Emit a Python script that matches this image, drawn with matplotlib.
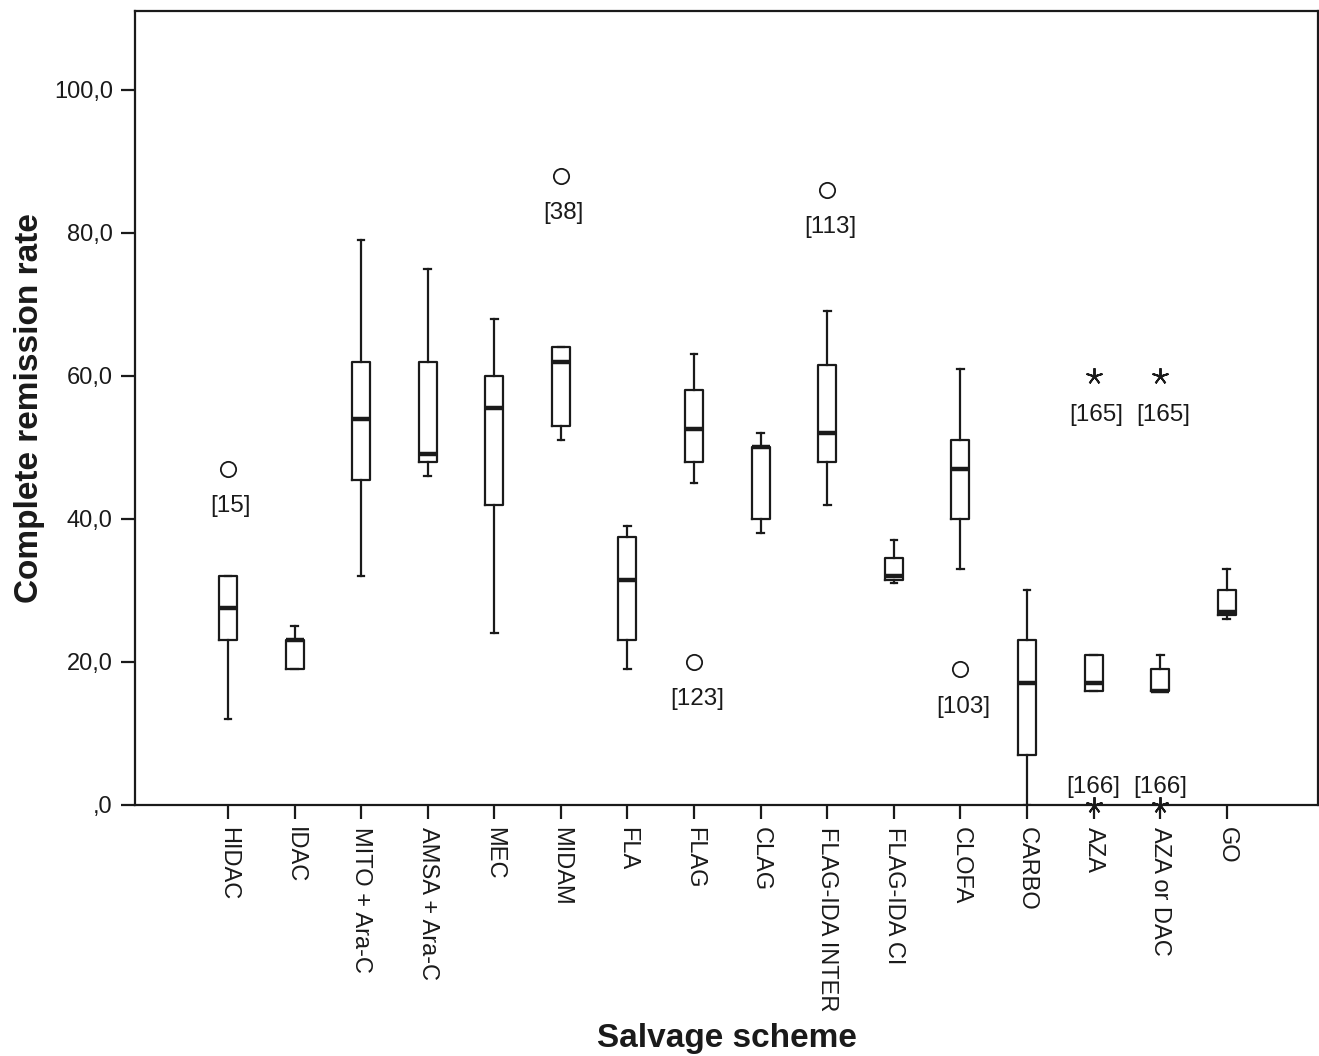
import matplotlib.pyplot as plt
import numpy as np

plt.rcParams['font.family'] = ['Liberation Sans', 'DejaVu Sans']

schemes = ["HIDAC", "IDAC", "MITO + Ara-C", "AMSA + Ara-C", "MEC", "MIDAM", "FLA", "FLAG",
           "CLAG", "FLAG-IDA INTER", "FLAG-IDA CI", "CLOFA", "CARBO", "AZA", "AZA or DAC", "GO"]

whis_lo = [12, 19, 32, 46, 24, 51, 19, 45, 38, 42, 31, 33, 0, 16, 16, 26]
q1 = [23, 19, 45.5, 48, 42, 53, 23, 48, 40, 48, 31.5, 40, 7, 16, 16, 26.5]
median = [27.5, 23, 54, 49, 55.5, 62, 31.5, 52.5, 50, 52, 32, 47, 17, 17, 16, 27]
q3 = [32, 23, 62, 62, 60, 64, 37.5, 58, 50, 61.5, 34.5, 51, 23, 21, 19, 30]
whis_hi = [32, 25, 79, 75, 68, 64, 39, 63, 52, 69, 37, 61, 30, 21, 21, 33]

# outliers: scheme index, value, case label
out_idx = [0, 5, 7, 9, 11]
out_val = [47, 88, 20, 86, 19]
out_lab = ["[15]", "[38]", "[123]", "[113]", "[103]"]

# extremes (asterisks)
ext_idx = [13, 14, 13, 14]
ext_val = [60, 60, 0, 0]
ext_lab = ["[165]", "[165]", "[166]", "[166]"]

pos = np.arange(1, len(schemes) + 1)

fig = plt.figure(figsize=(13.19, 10.56), dpi=100)
ax = fig.add_axes([135 / 1319, 1 - 805 / 1056, 1183 / 1319, 794 / 1056])

stats = []
for i in range(len(schemes)):
    stats.append({"whislo": whis_lo[i], "q1": q1[i], "med": median[i],
                  "q3": q3[i], "whishi": whis_hi[i], "fliers": []})

ax.bxp(stats, positions=pos, widths=0.27, capwidths=0.1, showfliers=False,
       boxprops=dict(color="#1a1a1a", linewidth=1.6),
       whiskerprops=dict(color="#1a1a1a", linewidth=1.6),
       capprops=dict(color="#1a1a1a", linewidth=1.6),
       medianprops=dict(color="#1a1a1a", linewidth=3.2, solid_capstyle="butt"))

for i, v, lab in zip(out_idx, out_val, out_lab):
    ax.plot(pos[i], v, marker="o", ms=11, mfc="white", mec="#1a1a1a", mew=1.3, ls="none", zorder=4)
    ax.annotate(lab, (pos[i], v), xytext=(2, -27), textcoords="offset points",
                ha="center", va="center", fontsize=17.5, color="#1a1a1a")

for i, v, lab in zip(ext_idx, ext_val, ext_lab):
    ax.plot(pos[i], v, marker=(5, 2, 0), ms=12, mec="#1a1a1a", mew=1.4, ls="none",
            zorder=4, clip_on=False)
    if v > 0:
        ax.annotate(lab, (pos[i], v), xytext=(2, -28), textcoords="offset points",
                    ha="center", va="center", fontsize=17.5, color="#1a1a1a")
    else:
        ax.annotate(lab, (pos[i], v), xytext=(0, 13), textcoords="offset points",
                    ha="center", va="center", fontsize=17.5, color="#1a1a1a")

ax.set_xlim(-0.396, 17.37)
ax.set_ylim(0, 111)
ax.set_yticks([0, 20, 40, 60, 80, 100])
ax.set_yticklabels([",0", "20,0", "40,0", "60,0", "80,0", "100,0"])
ax.set_xticks(pos)
ax.set_xticklabels(schemes, rotation=-90, va="top", ha="center")

for s in ax.spines.values():
    s.set_linewidth(1.6)
    s.set_color("#1a1a1a")
ax.tick_params(axis="both", length=10, width=1.6, color="#1a1a1a",
               labelsize=17, labelcolor="#1a1a1a", pad=6)

fig.text(30 / 1319, 1 - 408 / 1056, "Complete remission rate", rotation=90,
         ha="center", va="center", fontsize=24, fontweight="bold", color="#1a1a1a")
fig.text(727 / 1319, 1 - 1038 / 1056, "Salvage scheme",
         ha="center", va="center", fontsize=24, fontweight="bold", color="#1a1a1a")

fig.savefig("out.png", dpi=100)
